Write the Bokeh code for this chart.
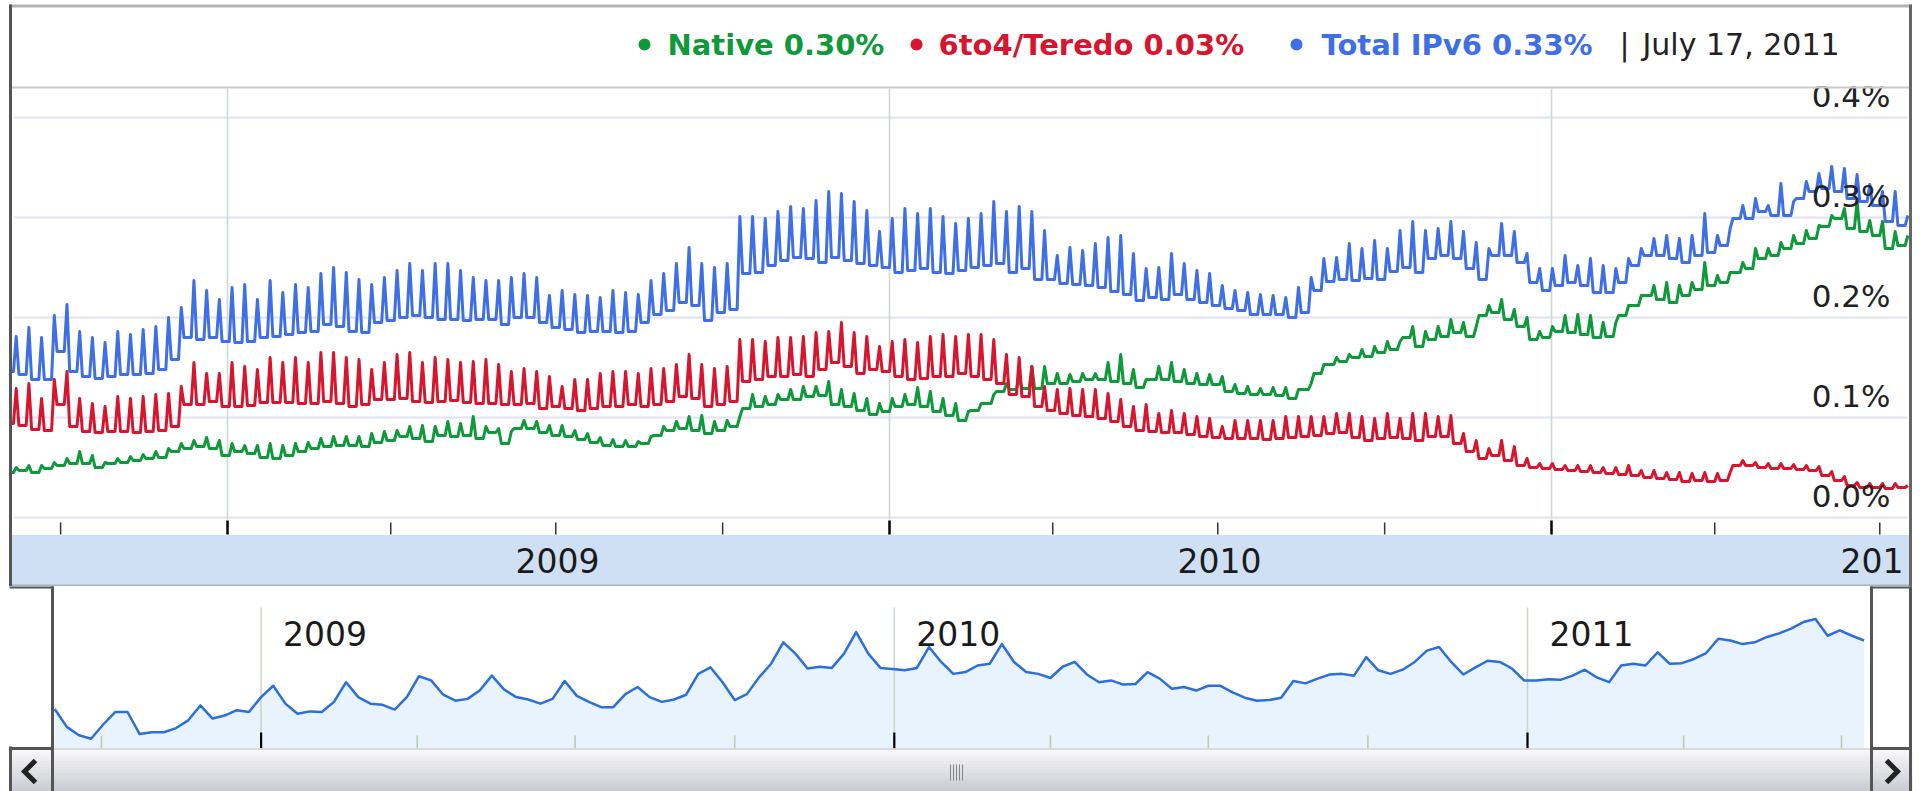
import numpy as np
from bokeh.plotting import figure
from bokeh.layouts import column
from bokeh.models import Range1d
from bokeh.core.properties import value
from bokeh.embed import file_html
from bokeh.resources import INLINE

# ---------------- data (weekly: weekday level and weekend peak, in %) ----------------
first_week = "2008-09-01"   # Monday of the first week shown

native_low = [
    0.045, 0.047, 0.045, 0.049, 0.052, 0.054, 0.054, 0.050, 0.054, 0.055,
    0.057, 0.059, 0.060, 0.066, 0.069, 0.071, 0.069, 0.062, 0.066, 0.064,
    0.060, 0.059, 0.062, 0.066, 0.069, 0.071, 0.072, 0.072, 0.071, 0.075,
    0.077, 0.081, 0.079, 0.076, 0.082, 0.081, 0.082, 0.079, 0.085, 0.074,
    0.089, 0.089, 0.085, 0.082, 0.081, 0.078, 0.075, 0.072, 0.071, 0.071,
    0.074, 0.082, 0.087, 0.089, 0.087, 0.084, 0.087, 0.091, 0.109, 0.111,
    0.113, 0.118, 0.118, 0.121, 0.122, 0.113, 0.111, 0.107, 0.103, 0.106,
    0.111, 0.113, 0.111, 0.106, 0.102, 0.097, 0.107, 0.114, 0.126, 0.128,
    0.129, 0.129, 0.134, 0.134, 0.136, 0.138, 0.138, 0.136, 0.134, 0.130,
    0.138, 0.138, 0.136, 0.134, 0.133, 0.133, 0.126, 0.124, 0.123, 0.123,
    0.122, 0.119, 0.128, 0.144, 0.153, 0.156, 0.160, 0.161, 0.165, 0.168,
    0.180, 0.171, 0.178, 0.181, 0.185, 0.181, 0.202, 0.205, 0.198, 0.191,
    0.178, 0.180, 0.186, 0.185, 0.183, 0.180, 0.181, 0.202, 0.212, 0.222,
    0.218, 0.215, 0.222, 0.228, 0.232, 0.235, 0.245, 0.249, 0.259, 0.262,
    0.269, 0.274, 0.279, 0.291, 0.299, 0.289, 0.286, 0.282, 0.269, 0.272,
]
native_high = [
    0.050, 0.052, 0.052, 0.055, 0.059, 0.066, 0.062, 0.055, 0.059, 0.061,
    0.063, 0.066, 0.069, 0.074, 0.077, 0.080, 0.077, 0.074, 0.072, 0.072,
    0.074, 0.072, 0.074, 0.075, 0.079, 0.081, 0.081, 0.081, 0.084, 0.086,
    0.087, 0.091, 0.092, 0.091, 0.096, 0.094, 0.101, 0.091, 0.089, 0.086,
    0.097, 0.096, 0.092, 0.092, 0.087, 0.084, 0.080, 0.078, 0.077, 0.076,
    0.081, 0.091, 0.096, 0.101, 0.102, 0.096, 0.097, 0.101, 0.123, 0.121,
    0.123, 0.128, 0.131, 0.131, 0.136, 0.128, 0.124, 0.119, 0.114, 0.119,
    0.123, 0.130, 0.126, 0.119, 0.114, 0.106, 0.114, 0.123, 0.134, 0.141,
    0.151, 0.151, 0.144, 0.143, 0.144, 0.144, 0.155, 0.163, 0.148, 0.138,
    0.151, 0.155, 0.148, 0.144, 0.143, 0.141, 0.133, 0.131, 0.129, 0.130,
    0.130, 0.128, 0.134, 0.153, 0.160, 0.163, 0.168, 0.171, 0.176, 0.176,
    0.191, 0.186, 0.191, 0.198, 0.195, 0.191, 0.212, 0.218, 0.208, 0.200,
    0.186, 0.191, 0.202, 0.203, 0.202, 0.195, 0.195, 0.212, 0.222, 0.232,
    0.235, 0.232, 0.235, 0.255, 0.242, 0.245, 0.255, 0.269, 0.269, 0.275,
    0.282, 0.287, 0.292, 0.302, 0.309, 0.316, 0.297, 0.296, 0.286, 0.282,
]
teredo_low = [
    0.094, 0.092, 0.088, 0.087, 0.113, 0.091, 0.086, 0.085, 0.086, 0.086,
    0.085, 0.086, 0.087, 0.091, 0.113, 0.113, 0.116, 0.111, 0.111, 0.112,
    0.115, 0.115, 0.115, 0.114, 0.114, 0.116, 0.114, 0.111, 0.113, 0.118,
    0.118, 0.119, 0.116, 0.115, 0.116, 0.117, 0.115, 0.114, 0.114, 0.113,
    0.113, 0.114, 0.109, 0.111, 0.109, 0.107, 0.109, 0.111, 0.111, 0.113,
    0.111, 0.113, 0.116, 0.121, 0.119, 0.111, 0.113, 0.116, 0.136, 0.138,
    0.141, 0.141, 0.143, 0.141, 0.148, 0.155, 0.151, 0.144, 0.148, 0.146,
    0.141, 0.138, 0.139, 0.141, 0.141, 0.144, 0.141, 0.138, 0.134, 0.123,
    0.121, 0.111, 0.107, 0.104, 0.102, 0.101, 0.099, 0.096, 0.091, 0.087,
    0.086, 0.085, 0.085, 0.083, 0.081, 0.080, 0.079, 0.079, 0.079, 0.078,
    0.079, 0.080, 0.081, 0.082, 0.084, 0.085, 0.080, 0.077, 0.079, 0.080,
    0.079, 0.077, 0.081, 0.081, 0.074, 0.066, 0.059, 0.062, 0.057, 0.052,
    0.050, 0.049, 0.048, 0.047, 0.046, 0.045, 0.044, 0.043, 0.042, 0.040,
    0.039, 0.038, 0.036, 0.037, 0.036, 0.037, 0.052, 0.052, 0.050, 0.049,
    0.049, 0.048, 0.047, 0.042, 0.037, 0.032, 0.030, 0.030, 0.029, 0.030,
]
teredo_high = [
    0.129, 0.134, 0.119, 0.138, 0.146, 0.119, 0.114, 0.111, 0.121, 0.119,
    0.121, 0.123, 0.124, 0.131, 0.155, 0.144, 0.144, 0.155, 0.151, 0.148,
    0.160, 0.155, 0.160, 0.155, 0.165, 0.165, 0.160, 0.158, 0.148, 0.155,
    0.163, 0.165, 0.155, 0.160, 0.158, 0.155, 0.156, 0.158, 0.153, 0.146,
    0.149, 0.146, 0.141, 0.131, 0.138, 0.138, 0.144, 0.146, 0.146, 0.144,
    0.149, 0.149, 0.153, 0.163, 0.153, 0.149, 0.151, 0.178, 0.178, 0.176,
    0.180, 0.180, 0.181, 0.185, 0.186, 0.195, 0.185, 0.181, 0.171, 0.176,
    0.178, 0.175, 0.181, 0.183, 0.181, 0.183, 0.183, 0.178, 0.163, 0.160,
    0.151, 0.131, 0.128, 0.129, 0.128, 0.128, 0.124, 0.118, 0.111, 0.113,
    0.104, 0.107, 0.104, 0.101, 0.099, 0.091, 0.097, 0.097, 0.097, 0.097,
    0.101, 0.101, 0.101, 0.101, 0.104, 0.104, 0.101, 0.099, 0.104, 0.099,
    0.104, 0.104, 0.101, 0.102, 0.084, 0.077, 0.069, 0.077, 0.071, 0.059,
    0.054, 0.054, 0.052, 0.052, 0.052, 0.050, 0.050, 0.052, 0.047, 0.047,
    0.045, 0.045, 0.044, 0.045, 0.044, 0.045, 0.057, 0.055, 0.054, 0.054,
    0.053, 0.052, 0.051, 0.046, 0.041, 0.035, 0.034, 0.034, 0.034, 0.032,
]
total_low = [
    0.146, 0.143, 0.138, 0.138, 0.166, 0.146, 0.141, 0.139, 0.141, 0.143,
    0.143, 0.144, 0.148, 0.158, 0.180, 0.178, 0.180, 0.176, 0.175, 0.176,
    0.180, 0.181, 0.183, 0.185, 0.186, 0.193, 0.191, 0.186, 0.185, 0.195,
    0.197, 0.200, 0.202, 0.200, 0.198, 0.198, 0.197, 0.198, 0.198, 0.193,
    0.200, 0.200, 0.195, 0.190, 0.188, 0.185, 0.186, 0.186, 0.185, 0.186,
    0.195, 0.203, 0.207, 0.215, 0.212, 0.197, 0.205, 0.208, 0.244, 0.245,
    0.252, 0.257, 0.260, 0.259, 0.255, 0.260, 0.257, 0.254, 0.252, 0.250,
    0.245, 0.247, 0.249, 0.245, 0.244, 0.247, 0.250, 0.252, 0.254, 0.245,
    0.249, 0.238, 0.238, 0.234, 0.233, 0.232, 0.230, 0.226, 0.223, 0.217,
    0.220, 0.218, 0.223, 0.218, 0.215, 0.212, 0.209, 0.207, 0.203, 0.203,
    0.203, 0.200, 0.205, 0.227, 0.236, 0.238, 0.237, 0.239, 0.238, 0.246,
    0.250, 0.245, 0.259, 0.262, 0.259, 0.249, 0.238, 0.262, 0.262, 0.255,
    0.235, 0.227, 0.232, 0.235, 0.232, 0.225, 0.225, 0.235, 0.252, 0.262,
    0.262, 0.259, 0.255, 0.262, 0.265, 0.272, 0.299, 0.299, 0.306, 0.302,
    0.302, 0.319, 0.326, 0.329, 0.326, 0.319, 0.316, 0.312, 0.296, 0.292,
]
total_high = [
    0.181, 0.190, 0.180, 0.202, 0.213, 0.186, 0.180, 0.175, 0.186, 0.183,
    0.188, 0.191, 0.200, 0.210, 0.237, 0.227, 0.218, 0.230, 0.233, 0.218,
    0.237, 0.225, 0.233, 0.230, 0.244, 0.250, 0.245, 0.238, 0.233, 0.240,
    0.247, 0.254, 0.247, 0.254, 0.254, 0.247, 0.240, 0.237, 0.237, 0.240,
    0.244, 0.240, 0.222, 0.227, 0.223, 0.222, 0.220, 0.227, 0.225, 0.223,
    0.237, 0.244, 0.254, 0.270, 0.254, 0.250, 0.254, 0.301, 0.301, 0.299,
    0.306, 0.311, 0.309, 0.317, 0.326, 0.324, 0.316, 0.307, 0.286, 0.299,
    0.309, 0.304, 0.309, 0.301, 0.294, 0.299, 0.304, 0.316, 0.306, 0.311,
    0.306, 0.287, 0.262, 0.270, 0.267, 0.274, 0.280, 0.282, 0.264, 0.249,
    0.250, 0.264, 0.254, 0.247, 0.244, 0.232, 0.227, 0.225, 0.223, 0.222,
    0.220, 0.230, 0.240, 0.259, 0.260, 0.274, 0.269, 0.277, 0.269, 0.287,
    0.296, 0.287, 0.289, 0.296, 0.286, 0.275, 0.269, 0.294, 0.286, 0.264,
    0.249, 0.249, 0.262, 0.252, 0.259, 0.252, 0.249, 0.259, 0.269, 0.279,
    0.282, 0.279, 0.282, 0.304, 0.282, 0.289, 0.312, 0.319, 0.312, 0.334,
    0.316, 0.336, 0.344, 0.351, 0.349, 0.343, 0.333, 0.326, 0.326, 0.302,
]
# overview (navigator) series, one sample per week
nav_total = [
    0.188, 0.158, 0.144, 0.138, 0.162, 0.183, 0.183, 0.146, 0.149, 0.149,
    0.156, 0.169, 0.194, 0.172, 0.177, 0.186, 0.183, 0.208, 0.227, 0.197,
    0.180, 0.184, 0.183, 0.200, 0.233, 0.208, 0.197, 0.195, 0.187, 0.208,
    0.243, 0.236, 0.212, 0.202, 0.205, 0.219, 0.244, 0.221, 0.208, 0.204,
    0.197, 0.205, 0.235, 0.210, 0.200, 0.191, 0.191, 0.213, 0.225, 0.208,
    0.200, 0.204, 0.212, 0.247, 0.258, 0.233, 0.203, 0.213, 0.241, 0.264,
    0.300, 0.281, 0.256, 0.259, 0.257, 0.281, 0.317, 0.281, 0.257, 0.255,
    0.253, 0.257, 0.292, 0.267, 0.247, 0.250, 0.261, 0.264, 0.297, 0.267,
    0.250, 0.247, 0.240, 0.259, 0.267, 0.246, 0.233, 0.236, 0.229, 0.230,
    0.250, 0.239, 0.222, 0.225, 0.219, 0.227, 0.227, 0.216, 0.207, 0.202,
    0.203, 0.207, 0.235, 0.231, 0.239, 0.246, 0.247, 0.244, 0.275, 0.253,
    0.247, 0.254, 0.267, 0.286, 0.292, 0.267, 0.246, 0.258, 0.269, 0.267,
    0.256, 0.236, 0.236, 0.238, 0.237, 0.244, 0.254, 0.241, 0.233, 0.261,
    0.264, 0.261, 0.283, 0.264, 0.265, 0.272, 0.282, 0.306, 0.303, 0.297,
    0.300, 0.309, 0.315, 0.323, 0.334, 0.339, 0.311, 0.320, 0.311, 0.303,
]

y_ticks = [0.0, 0.1, 0.2, 0.3, 0.4]
y_tick_labels = ["0.0%", "0.1%", "0.2%", "0.3%", "0.4%"]
year_starts = ["2009-01-01", "2010-01-01", "2011-01-01"]
year_mids = ["2009-07-02", "2010-07-02", "2011-07-02"]
year_labels = ["2009", "2010", "2011"]
quarter_ticks = ["2008-10-01", "2009-04-01", "2009-07-01", "2009-10-01",
                 "2010-04-01", "2010-07-01", "2010-10-01", "2011-04-01", "2011-07-01"]
legend_names = ["Native", "6to4/Teredo", "Total IPv6"]
legend_values = ["0.30%", "0.03%", "0.33%"]
legend_date = "July 17, 2011"

GREEN, RED, BLUE = "#0e9a3a", "#d8142e", "#3e6fe7"
NAV_BLUE = "#2b6fda"
FONT = value("DejaVu Sans")

DAY = 86400000.0
def ms(s):
    return float(np.datetime64(s, "ms").astype("int64"))

T2009 = ms("2009-01-01")
weeks = ms(first_week) + np.arange(len(total_low)) * 7 * DAY
years_ms = [ms(s) for s in year_starts]
mids_ms = [ms(s) for s in year_mids]
quarters_ms = [ms(s) for s in quarter_ticks]

# page-pixel geometry helpers (layout only; the page has no body margin)
PXD_T = 662.0 / 365.0
def tx(px): return T2009 + (px - 227.0) / PXD_T * DAY
def ty(py): return (517.0 - py) / 1000.0
def tpy(v): return 517.0 - 1000.0 * v

PXD_N = 1.7348
def nx(px): return T2009 + (px - 260.6) / PXD_N * DAY
def ny(py): return (820.5 - py) / 595.7
def npx(t): return 260.6 + (t - T2009) / DAY * PXD_N

def spiky(low, high):
    xs, ys = [], []
    for t, lo, hi in zip(weeks, low, high):
        xs += [t, t + 4 * DAY, t + 5.5 * DAY]
        ys += [lo, lo, hi]
    return xs, ys

W = 1923
HT, HN = 586, 205
common = dict(output_backend="svg", toolbar_location=None, x_axis_location=None,
              y_axis_location=None, min_border=0, outline_line_color=None,
              border_fill_color="white", background_fill_color="white")

# ---------------- main chart ----------------
pT = figure(width=W, height=HT, x_range=Range1d(tx(0), tx(W)),
            y_range=Range1d(ty(HT), ty(0)), **common)
pT.grid.visible = False

n = len(y_ticks)
pT.segment(x0=[tx(14)] * n, x1=[tx(1907)] * n, y0=y_ticks, y1=y_ticks,
           line_color="#e2e2f3", line_width=2)
pT.segment(x0=years_ms, x1=years_ms, y0=[ty(88)] * 3, y1=[ty(519)] * 3,
           line_color="#cfdacf", line_width=1.6)

# date band
pT.quad(left=[tx(10)], right=[tx(1911)], bottom=[ty(586)], top=[ty(534.5)],
        fill_color="#cfe0f5", line_color=None)
pT.segment(x0=[tx(10)], x1=[tx(1911)], y0=[ty(585)], y1=[ty(585)],
           line_color="#a7b3c0", line_width=2)
pT.segment(x0=quarters_ms, x1=quarters_ms, y0=[ty(522)] * len(quarters_ms),
           y1=[ty(534)] * len(quarters_ms), line_color="#333333", line_width=1.5)
pT.segment(x0=years_ms, x1=years_ms, y0=[ty(520)] * 3, y1=[ty(534)] * 3,
           line_color="#000000", line_width=2.5)
# the last year label is cut by the window's right edge, showing only "201"
band_labels = year_labels[:-1] + [year_labels[-1][:3]]
band_x = mids_ms[:-1] + [tx(1840)]
band_align = ["center", "center", "left"]
for bx, bl, ba in zip(band_x, band_labels, band_align):
    pT.text(x=[bx], y=[ty(560)], text=[bl], text_font=FONT,
            text_font_size="33px", text_align=ba, text_baseline="middle",
            text_color="#1a1a1a")

# series
for lo, hi, col in [(native_low, native_high, GREEN),
                    (teredo_low, teredo_high, RED),
                    (total_low, total_high, BLUE)]:
    xs, ys = spiky(lo, hi)
    pT.line(xs, ys, line_color=col, line_width=3, line_join="round")

# value labels (right side, above their gridline)
pT.text(x=[tx(1890)] * n, y=[ty(tpy(v) - 22) for v in y_ticks], text=y_tick_labels,
        text_font=FONT, text_font_size="31px", text_align="right",
        text_baseline="middle", text_color="#222222")

# legend strip
pT.quad(left=[tx(10)], right=[tx(1911)], bottom=[ty(86)], top=[ty(0)],
        fill_color="white", line_color=None)
pT.segment(x0=[tx(10)], x1=[tx(1911)], y0=[ty(87)], y1=[ty(87)],
           line_color="#c9c9c9", line_width=2.2)
pT.segment(x0=[tx(9)], x1=[tx(1912)], y0=[ty(5.5)], y1=[ty(5.5)],
           line_color="#b3b3b3", line_width=3)

# frame sides
pT.quad(left=[tx(1911.5)], right=[tx(W + 2)], bottom=[ty(HT + 1)], top=[ty(-1)],
        fill_color="white", line_color=None)
pT.quad(left=[tx(-2)], right=[tx(8.5)], bottom=[ty(HT + 1)], top=[ty(-1)],
        fill_color="white", line_color=None)
pT.segment(x0=[tx(10)], x1=[tx(10)], y0=[ty(4)], y1=[ty(588)],
           line_color="#555555", line_width=3)
pT.segment(x0=[tx(1910)], x1=[tx(1910)], y0=[ty(4)], y1=[ty(588)],
           line_color="#666666", line_width=3)

leg_y = ty(44)
pT.scatter(x=[tx(644), tx(916), tx(1296)], y=[leg_y] * 3, size=12,
           color=[GREEN, RED, BLUE], line_color=None)
for px0, name, val, col in zip([667, 938, 1321], legend_names, legend_values,
                               [GREEN, RED, BLUE]):
    pT.text(x=[tx(px0)], y=[leg_y], text=[f"{name} {val}"], text_font=FONT,
            text_font_style="bold", text_font_size="29px", text_align="left",
            text_baseline="middle", text_color=col)
pT.text(x=[tx(1624)], y=[leg_y], text=["|"], text_font=FONT, text_font_size="30px",
        text_align="center", text_baseline="middle", text_color="#222222")
pT.text(x=[tx(1642)], y=[leg_y], text=[legend_date], text_font=FONT,
        text_font_size="30px", text_align="left", text_baseline="middle",
        text_color="#222222")

# ---------------- overview / navigator ----------------
pN = figure(width=W, height=HN, x_range=Range1d(nx(0), nx(W)),
            y_range=Range1d(ny(HT + HN), ny(HT)), **common)
pN.grid.visible = False

nav_x = weeks + 3 * DAY
base = ny(748)
pN.varea(x=nav_x, y1=[base] * len(nav_x), y2=nav_total, fill_color="#e9f3fd")
pN.segment(x0=years_ms, x1=years_ms, y0=[ny(607)] * 3, y1=[base] * 3,
           line_color="#c8d6c8", line_width=1.5)
pN.segment(x0=quarters_ms, x1=quarters_ms, y0=[ny(735)] * len(quarters_ms),
           y1=[base] * len(quarters_ms), line_color="#b5cfb5", line_width=1.6)
pN.segment(x0=years_ms, x1=years_ms, y0=[ny(732)] * 3, y1=[base] * 3,
           line_color="#000000", line_width=2.2)
pN.line(nav_x, nav_total, line_color=NAV_BLUE, line_width=2.5, line_join="round")
pN.text(x=[nx(npx(t) + 22) for t in years_ms], y=[ny(633)] * 3, text=year_labels,
        text_font=FONT, text_font_size="33px", text_align="left",
        text_baseline="middle", text_color="#1a1a1a")

# white margins outside the overview window
pN.quad(left=[nx(-2), nx(1872.5)], right=[nx(51), nx(W + 2)], bottom=[base, base],
        top=[ny(585), ny(585)], fill_color="white", line_color=None)

# scrollbar gradient
SB0, SBH = 748.0, 43.0
steps = 14
c0 = np.array([0xf8, 0xf8, 0xfa]); c1 = np.array([0xcb, 0xcc, 0xd3])
for k in range(steps):
    f = k / (steps - 1)
    c = tuple(int(round(a)) for a in c0 + (c1 - c0) * f)
    y_top = SB0 + k * SBH / steps
    pN.quad(left=[nx(9)], right=[nx(1912)], bottom=[ny(y_top + SBH / steps + 0.6)],
            top=[ny(y_top)], fill_color="#%02x%02x%02x" % c, line_color=None)
pN.quad(left=[nx(-2), nx(1912)], right=[nx(8.5), nx(W + 2)],
        bottom=[ny(HT + HN + 1)] * 2, top=[ny(740)] * 2,
        fill_color="white", line_color=None)
pN.segment(x0=[nx(52)], x1=[nx(1871)], y0=[ny(748.5)], y1=[ny(748.5)],
           line_color="#bdbdc4", line_width=1)
grip = [950, 953, 956, 959, 962]
pN.segment(x0=[nx(g) for g in grip], x1=[nx(g) for g in grip],
           y0=[ny(764)] * len(grip), y1=[ny(780)] * len(grip),
           line_color="#85858c", line_width=1)

# outline of the overview window and buttons
DARK = "#555555"
bx0 = [9, 52, 8.5, 10, 1869.5, 1871, 1871, 1910]
bx1 = [53.5, 52, 52, 10, 1911.5, 1871, 1911.5, 1910]
by0 = [586.5, 585, 748, 746, 586.5, 585, 748, 585]
by1 = [586.5, 791, 748, 791, 586.5, 791, 748, 791]
pN.segment(x0=[nx(v) for v in bx0], x1=[nx(v) for v in bx1],
           y0=[ny(v) for v in by0], y1=[ny(v) for v in by1],
           line_color=DARK, line_width=3)

# arrow chevrons
pN.line([nx(35), nx(24), nx(35)], [ny(760), ny(771), ny(782)],
        line_color="#222222", line_width=5, line_join="miter")
pN.line([nx(1886), nx(1897), nx(1886)], [ny(760), ny(771), ny(782)],
        line_color="#222222", line_width=5, line_join="miter")

layout = column(pT, pN, spacing=0)
open("out.html", "w").write(file_html(layout, INLINE, title="IPv6 adoption"))
